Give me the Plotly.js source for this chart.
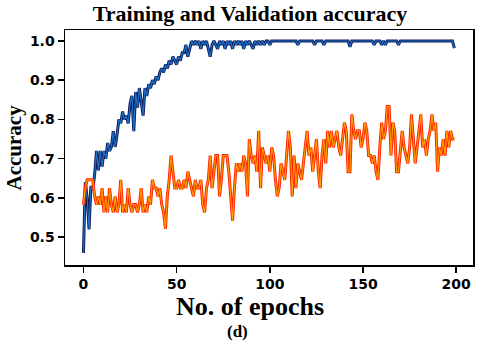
<!DOCTYPE html>
<html>
<head>
<meta charset="utf-8">
<script src="https://cdn.plot.ly/plotly-3.0.1.min.js"></script>
<style>
  html, body { margin: 0; padding: 0; background: #fff; }
  #chart { width: 480px; height: 344px; }
</style>
</head>
<body>
<div id="chart"></div>
<script>
// accuracy per epoch
const trainAcc = [
  0.46, 0.64, 0.60, 0.52, 0.63, 0.62, 0.66, 0.72, 0.67, 0.72,
  0.68, 0.72, 0.70, 0.74, 0.72, 0.73, 0.77, 0.73, 0.76, 0.80,
  0.79, 0.82, 0.80, 0.81, 0.79, 0.84, 0.86, 0.77, 0.87, 0.83,
  0.88, 0.84, 0.81, 0.88, 0.86, 0.89, 0.88, 0.90, 0.89, 0.91,
  0.90, 0.92, 0.93, 0.92, 0.94, 0.93, 0.95, 0.94, 0.96, 0.95,
  0.94, 0.96, 0.95, 0.97, 0.97, 0.99, 0.96, 0.98, 1.00, 0.99,
  1.00, 0.99, 1.00, 0.98, 1.00, 0.99, 1.00, 0.98, 0.96, 0.99,
  1.00, 0.99, 0.98, 1.00, 0.99, 1.00, 0.98, 1.00, 0.99, 1.00,
  0.98, 1.00, 0.99, 1.00, 0.99, 1.00, 0.98, 1.00, 0.99, 1.00,
  0.99, 0.98, 1.00, 0.99, 1.00, 0.99, 1.00, 0.99, 1.00, 1.00,
  0.99, 1.00, 1.00, 1.00, 1.00, 1.00, 1.00, 1.00, 1.00, 1.00,
  1.00, 1.00, 1.00, 1.00, 1.00, 0.99, 1.00, 1.00, 1.00, 1.00,
  1.00, 1.00, 1.00, 1.00, 0.99, 1.00, 1.00, 1.00, 1.00, 0.99,
  1.00, 1.00, 1.00, 1.00, 1.00, 1.00, 1.00, 1.00, 1.00, 1.00,
  1.00, 1.00, 1.00, 0.985, 1.00, 1.00, 1.00, 1.00, 1.00, 1.00,
  1.00, 1.00, 1.00, 1.00, 1.00, 1.00, 0.99, 1.00, 1.00, 1.00,
  0.99, 1.00, 0.99, 1.00, 1.00, 1.00, 1.00, 1.00, 1.00, 0.99,
  1.00, 1.00, 1.00, 1.00, 1.00, 1.00, 1.00, 1.00, 1.00, 1.00,
  1.00, 1.00, 1.00, 1.00, 1.00, 1.00, 1.00, 1.00, 1.00, 1.00,
  1.00, 1.00, 1.00, 1.00, 1.00, 1.00, 1.00, 1.00, 1.00, 0.982
];

const valAcc = [
  0.583, 0.625, 0.646, 0.646, 0.646, 0.646, 0.604, 0.583, 0.604, 0.583,
  0.625, 0.563, 0.604, 0.563, 0.625, 0.583, 0.563, 0.604, 0.563, 0.583,
  0.646, 0.563, 0.583, 0.563, 0.625, 0.583, 0.563, 0.583, 0.583, 0.563,
  0.583, 0.625, 0.563, 0.583, 0.563, 0.604, 0.583, 0.646, 0.625, 0.625,
  0.604, 0.625, 0.583, 0.563, 0.521, 0.604, 0.646, 0.708, 0.667, 0.625,
  0.625, 0.646, 0.625, 0.625, 0.646, 0.625, 0.667, 0.646, 0.625, 0.604,
  0.646, 0.625, 0.625, 0.646, 0.583, 0.563, 0.625, 0.646, 0.708, 0.625,
  0.667, 0.708, 0.708, 0.604, 0.646, 0.708, 0.708, 0.708, 0.667, 0.604,
  0.542, 0.625, 0.688, 0.667, 0.688, 0.667, 0.708, 0.688, 0.604, 0.750,
  0.708, 0.688, 0.708, 0.667, 0.771, 0.625, 0.729, 0.708, 0.688, 0.708,
  0.667, 0.729, 0.708, 0.646, 0.604, 0.625, 0.688, 0.667, 0.646, 0.708,
  0.771, 0.729, 0.604, 0.708, 0.625, 0.688, 0.667, 0.646, 0.688, 0.729,
  0.771, 0.708, 0.729, 0.667, 0.708, 0.750, 0.667, 0.625, 0.708, 0.750,
  0.688, 0.771, 0.729, 0.771, 0.729, 0.750, 0.771, 0.729, 0.708, 0.750,
  0.792, 0.771, 0.667, 0.667, 0.813, 0.771, 0.750, 0.771, 0.771, 0.729,
  0.750, 0.792, 0.771, 0.708, 0.708, 0.688, 0.708, 0.667, 0.646, 0.729,
  0.792, 0.750, 0.771, 0.833, 0.833, 0.708, 0.792, 0.771, 0.667, 0.667,
  0.729, 0.771, 0.729, 0.708, 0.688, 0.729, 0.813, 0.750, 0.688, 0.729,
  0.771, 0.813, 0.729, 0.750, 0.708, 0.750, 0.771, 0.813, 0.771, 0.792,
  0.667, 0.729, 0.708, 0.750, 0.708, 0.771, 0.729, 0.771, 0.750, 0.750
];

const epochs = trainAcc.map((_, i) => i);
const xTicks = [0, 50, 100, 150, 200];
const yTicks = [0.5, 0.6, 0.7, 0.8, 0.9, 1.0];

const serif = "Liberation Serif, Times New Roman, serif";
const sans = "DejaVu Sans, sans-serif";

function line(y, color, width) {
  return {
    x: epochs,
    y: y,
    mode: "lines",
    line: { color: color, width: width },
    hoverinfo: "skip"
  };
}

const traces = [
  line(trainAcc, "#0a1a5a", 3),
  line(trainAcc, "#1f6fc4", 1.2),
  line(valAcc, "#ff2200", 3),
  line(valAcc, "#ffa000", 1.1)
];

const axisBase = {
  showline: true,
  linecolor: "#000",
  linewidth: 1.5,
  mirror: true,
  showgrid: false,
  zeroline: false,
  ticks: "outside",
  ticklen: 6,
  tickwidth: 1.5,
  tickcolor: "#000",
  tickfont: { family: sans, size: 14, color: "#000", weight: "bold" }
};

const layout = {
  width: 480,
  height: 344,
  margin: { l: 65, r: 7, t: 30, b: 79 },
  paper_bgcolor: "#fff",
  plot_bgcolor: "#fff",
  showlegend: false,
  title: {
    text: "<b>Training and Validation accuracy</b>",
    font: { family: serif, size: 22, color: "#000" },
    x: 250 / 480,
    xref: "container",
    xanchor: "center",
    y: 0.985,
    yref: "container",
    yanchor: "top"
  },
  xaxis: Object.assign({}, axisBase, {
    range: [-9.9, 209],
    tickvals: xTicks,
    ticktext: xTicks.map(String)
  }),
  yaxis: Object.assign({}, axisBase, {
    range: [0.429, 1.028],
    tickvals: yTicks,
    ticktext: yTicks.map(v => v.toFixed(1))
  }),
  annotations: [
    {
      text: "<b>No. of epochs</b>",
      xref: "paper", yref: "paper",
      x: (250 - 65) / 408, y: -0.105,
      xanchor: "center", yanchor: "top",
      showarrow: false,
      font: { family: serif, size: 26, color: "#000" }
    },
    {
      text: "<b>(d)</b>",
      xref: "paper", yref: "paper",
      x: (237 - 65) / 408, y: -0.235,
      xanchor: "center", yanchor: "top",
      showarrow: false,
      font: { family: serif, size: 17, color: "#000" }
    },
    {
      text: "<b>Accuracy</b>",
      xref: "paper", yref: "paper",
      x: (13 - 65) / 408, y: 0.5,
      xanchor: "center", yanchor: "middle",
      textangle: -90,
      showarrow: false,
      font: { family: serif, size: 21, color: "#000" }
    }
  ]
};

Plotly.newPlot("chart", traces, layout, { displayModeBar: false, staticPlot: true });
</script>
</body>
</html>
